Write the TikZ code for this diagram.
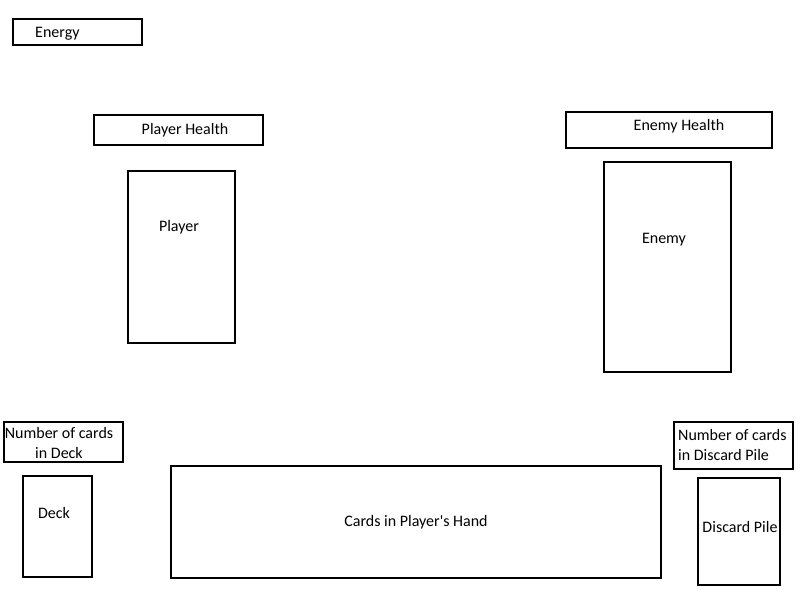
\documentclass[tikz,border=0pt]{standalone}
\usepackage{fontspec}
\setmainfont{Carlito}[Ligatures=TeXOff]
\usetikzlibrary{positioning}

\begin{document}
\begin{tikzpicture}[
    x=1pt, y=-1pt,
    box/.style={rectangle, draw=black, line width=2pt, outer sep=0pt, inner sep=0pt, anchor=north west},
    txt/.style={inner sep=0pt, font=\fontsize{16}{20}\selectfont, align=center}
]
    \useasboundingbox (0,0) rectangle (800,600);

    % boxes
    \node [box, minimum width=129pt, minimum height=26pt] (energy) at (13,19) {};
    \node [box, minimum width=169pt, minimum height=30pt] (phealth) at (94,115) {};
    \node [box, minimum width=206pt, minimum height=36pt] (ehealth) at (566,112) {};
    \node [box, minimum width=107pt, minimum height=172pt] (player) at (128,171) {};
    \node [box, minimum width=127pt, minimum height=210pt] (enemy) at (604,162) {};
    \node [box, minimum width=119pt, minimum height=40pt] (ndeck) at (4,422) {};
    \node [box, minimum width=69pt, minimum height=101pt] (deck) at (23,476) {};
    \node [box, minimum width=490pt, minimum height=112pt] (hand) at (171,466) {};
    \node [box, minimum width=119pt, minimum height=47pt] (ndiscard) at (674,422) {};
    \node [box, minimum width=82pt, minimum height=107pt] (discard) at (698,478) {};

    % labels
    \node [txt, anchor=west] (energy text) at (35,34) {Energy};
    \node [txt] (phealth text) at (185,130) {Player Health};
    \node [txt] (ehealth text) at (679,126) {Enemy Health};
    \node [txt] (player text) at (179,227) {Player};
    \node [txt] (enemy text) at (664,240) {Enemy};
    \node [txt] (ndeck text) at (59,443) {Number of cards\\in Deck};
    \node [txt] (deck text) at (54,513) {Deck};
    \node [txt] (hand text) at (416,522) {Cards in Player's Hand};
    \node [txt, align=left, anchor=west] (ndiscard text) at (678,445) {Number of cards\\in Discard Pile};
    \node [txt] (discard text) at (740,527) {Discard Pile};
\end{tikzpicture}
\end{document}
